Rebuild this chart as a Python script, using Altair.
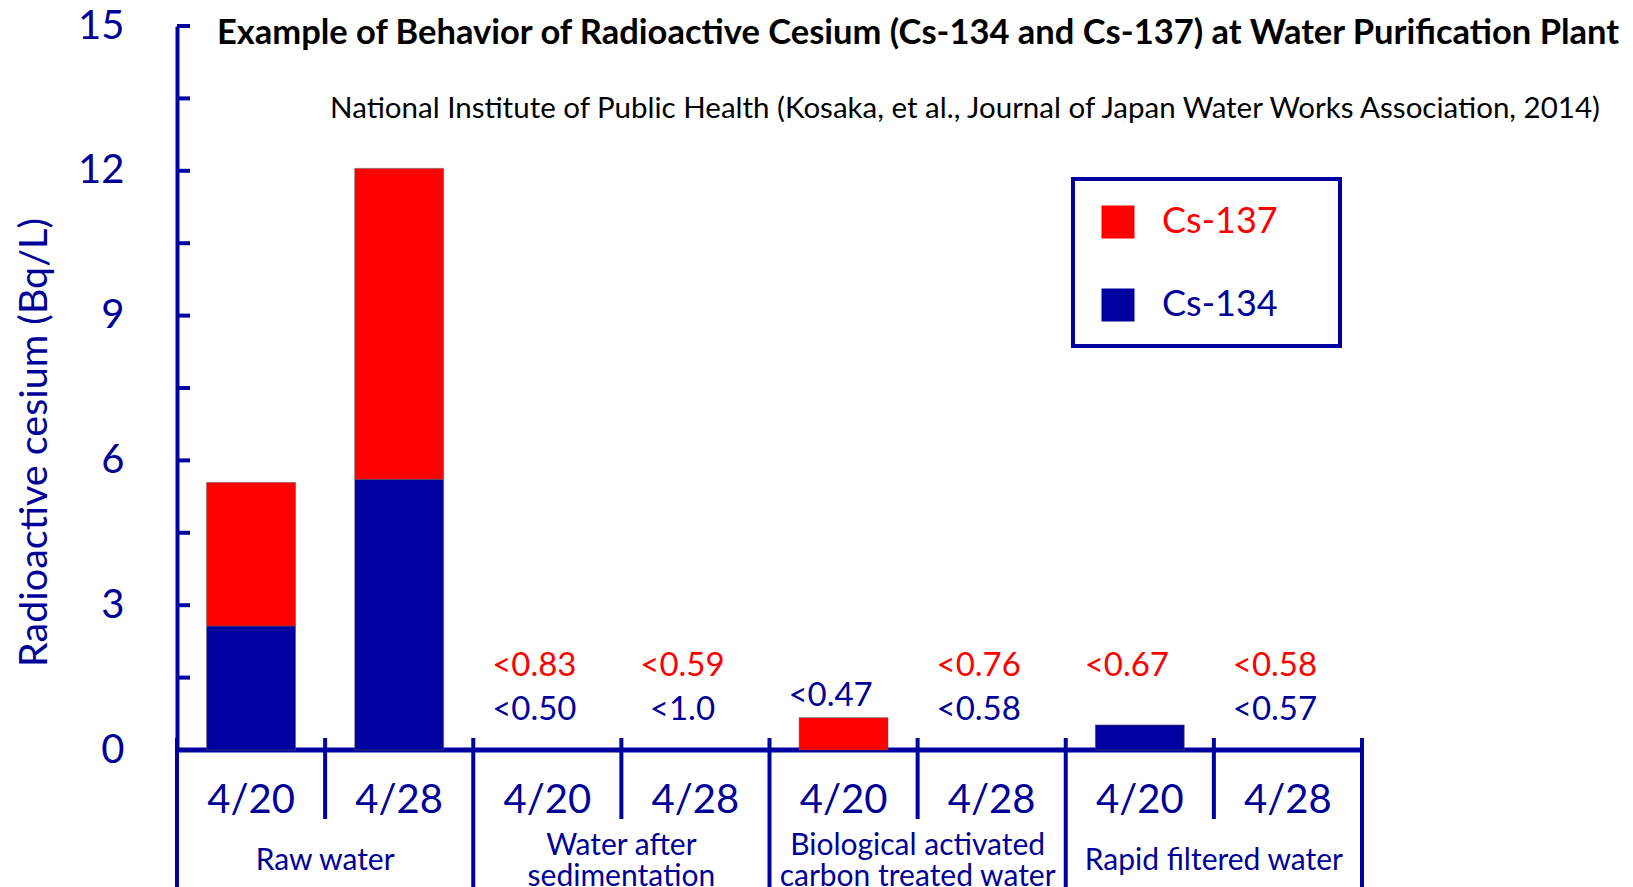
import altair as alt
import pandas as pd

# ---------------- data ----------------
GROUP_LINES = [["Raw water"], ["Water after", "sedimentation"],
               ["Biological activated", "carbon treated water"], ["Rapid filtered water"]]
DATES = ["4/20", "4/28", "4/20", "4/28", "4/20", "4/28", "4/20", "4/28"]
CS134 = [2.57, 5.61, 0, 0, 0, 0, 0.52, 0]
CS137 = [2.97, 6.44, 0, 0, 0.67, 0, 0, 0]
LABEL_137 = ["", "", "<0.83", "<0.59", "", "<0.76", "<0.67", "<0.58"]
LABEL_134 = ["", "", "<0.50", "<1.0", "<0.47", "<0.58", "", "<0.57"]
ISOTOPES = ["Cs-137", "Cs-134"]
Y_LABELS = [0, 3, 6, 9, 12, 15]
Y_TICKS = [0, 1.5, 3, 4.5, 6, 7.5, 9, 10.5, 12, 13.5, 15]
BOUNDS = list(range(9))

TITLE = "Example of Behavior of Radioactive Cesium (Cs-134 and Cs-137) at Water Purification Plant"
SUBTITLE = "National Institute of Public Health (Kosaka, et al., Journal of Japan Water Works Association, 2014)"
YTITLE = "Radioactive cesium (Bq/L)"

RED = "#ff0000"
BLUE = "#0000a0"
AXIS = "#0000a0"
TEXT = "#000099"
FONT = "Lato"

W, H = 1185, 724

# ---------------- tables ----------------
n = len(DATES)
bars = pd.DataFrame({
    "i": list(range(n)) * 2,
    "iso": ["Cs-134"] * n + ["Cs-137"] * n,
    "ord": [0] * n + [1] * n,
    "value": CS134 + CS137,
})
cats = pd.DataFrame({"i": list(range(n)), "date": DATES,
                     "total": [a + b for a, b in zip(CS134, CS137)]})
labels = pd.DataFrame({
    "i": list(range(n)) * 2,
    "iso": ["Cs-137"] * n + ["Cs-134"] * n,
    "label": LABEL_137 + LABEL_134,
    "total": list(cats["total"]) * 2,
})
group_rows = pd.DataFrame([
    {"g": g, "k": k, "nl": len(lines), "line": line}
    for g, lines in enumerate(GROUP_LINES) for k, line in enumerate(lines)
])
ticks = pd.DataFrame({"v": Y_TICKS})
bounds = pd.DataFrame({"b": BOUNDS})

xscale = alt.Scale(domain=[0, n], nice=False, zero=False)
yscale = alt.Scale(domain=[0, 15], nice=False)
yaxis = alt.Axis(values=Y_LABELS, ticks=False, domain=True, domainColor=AXIS, domainWidth=4,
                 labelFontSize=40, labelColor=TEXT, labelFont=FONT, labelPadding=53,
                 labelBaseline="middle", grid=False,
                 titleFontSize=39.5, titleFont=FONT, titleFontWeight="normal", titleColor=TEXT,
                 titleX=-143, titleY=416, titleAngle=270, titleAlign="center",
                 titleBaseline="middle")

bar_layer = alt.Chart(bars).transform_filter("datum.value > 0").transform_stack(
    stack="value", groupby=["i"], as_=["y0", "y1"], sort=[alt.SortField("ord")]
).transform_calculate(
    xl="datum.i + 0.2", xr="datum.i + 0.8"
).mark_bar(stroke="#555555", strokeWidth=0.8, strokeOpacity=0.7).encode(
    x=alt.X("xl:Q", scale=xscale, axis=None),
    x2="xr:Q",
    y=alt.Y("y0:Q", scale=yscale, axis=yaxis, title=YTITLE),
    y2="y1:Q",
    color=alt.Color("iso:N", scale=alt.Scale(domain=ISOTOPES, range=[RED, BLUE]),
                    legend=alt.Legend(title=None, orient="none", legendX=901, legendY=156,
                                      direction="vertical", symbolType="square",
                                      symbolSize=1089, symbolStrokeWidth=0,
                                      labelFontSize=36, labelFont=FONT,
                                      labelColor=alt.ExprRef(
                                          "datum.label == 'Cs-137' ? '#ff0000' : '#000099'"),
                                      padding=22, rowPadding=47, labelOffset=26)),
)

# frame drawn around the legend entries
legend_frame = alt.Chart(pd.DataFrame({"f": [0]})).mark_rect(
    filled=False, stroke=AXIS, strokeWidth=4).encode(
    x=alt.value(896), x2=alt.value(1163), y=alt.value(153), y2=alt.value(320))

tick_layer = alt.Chart(ticks).mark_rule(color=AXIS, strokeWidth=4).encode(
    y=alt.Y("v:Q", scale=yscale, axis=yaxis, title=YTITLE),
    x=alt.value(0), x2=alt.value(13),
)

baseline = alt.Chart(bounds).transform_aggregate(lo="min(b)", hi="max(b)").mark_rule(
    color=AXIS, strokeWidth=5).encode(
    x=alt.X("lo:Q", scale=xscale, axis=None), x2="hi:Q", y=alt.value(H))

long_bounds = alt.Chart(bounds).transform_filter("datum.b % 2 == 0").mark_rule(
    color=AXIS, strokeWidth=4).encode(
    x=alt.X("b:Q", scale=xscale, axis=None), y=alt.value(712), y2=alt.value(880))
short_bounds = alt.Chart(bounds).transform_filter("datum.b % 2 == 1").mark_rule(
    color=AXIS, strokeWidth=4).encode(
    x=alt.X("b:Q", scale=xscale, axis=None), y=alt.value(712), y2=alt.value(793))

date_layer = alt.Chart(cats).transform_calculate(xc="datum.i + 0.5").mark_text(
    font=FONT, fontSize=40, color=TEXT, baseline="middle", align="center").encode(
    x=alt.X("xc:Q", scale=xscale, axis=None), y=alt.value(775), text="date:N")


def group_text(cond, ypix):
    return alt.Chart(group_rows).transform_filter(cond).transform_calculate(
        xc="2 * datum.g + 1").mark_text(
        font=FONT, fontSize=30, color=TEXT, baseline="middle", align="center").encode(
        x=alt.X("xc:Q", scale=xscale, axis=None), y=alt.value(ypix), text="line:N")


group_one = group_text("datum.nl == 1", 835)
group_top = group_text("datum.nl > 1 && datum.k == 0", 820)
group_bot = group_text("datum.nl > 1 && datum.k == 1", 851)

nd_layer = alt.Chart(labels).transform_filter("datum.label != ''").transform_calculate(
    xc="datum.i + 0.5",
    ly="datum.iso == 'Cs-137' ? 1.745 : (datum.total > 0 ? datum.total + 0.445 : 0.825)"
).mark_text(font=FONT, fontSize=33, baseline="middle", align="center", dx=-13).encode(
    x=alt.X("xc:Q", scale=xscale, axis=None),
    y=alt.Y("ly:Q", scale=yscale, axis=yaxis, title=YTITLE),
    text="label:N",
    color=alt.condition("datum.iso == 'Cs-137'", alt.value(RED), alt.value(TEXT)),
)

title_layer = alt.Chart(pd.DataFrame({"t": [TITLE]})).mark_text(
    font=FONT, fontSize=34.5, fontWeight="bold", color="#000000", align="center",
    baseline="middle").encode(x=alt.value(741), y=alt.value(8), text="t:N")
subtitle_layer = alt.Chart(pd.DataFrame({"t": [SUBTITLE]})).mark_text(
    font=FONT, fontSize=29.5, color="#000000", align="center",
    baseline="middle").encode(x=alt.value(788), y=alt.value(83), text="t:N")

chart = alt.layer(
    long_bounds, short_bounds, baseline, bar_layer, tick_layer, date_layer, group_one,
    group_top, group_bot, nd_layer, title_layer, subtitle_layer, legend_frame,
).properties(
    width=W, height=H,
    background="white",
    autosize=alt.AutoSizeParams(type="none"),
    padding={"left": 169, "top": 18, "right": 262, "bottom": 137},
).configure_view(strokeWidth=0, stroke="transparent")

chart.save("out.html", embed_options={"renderer": "svg", "actions": False})
